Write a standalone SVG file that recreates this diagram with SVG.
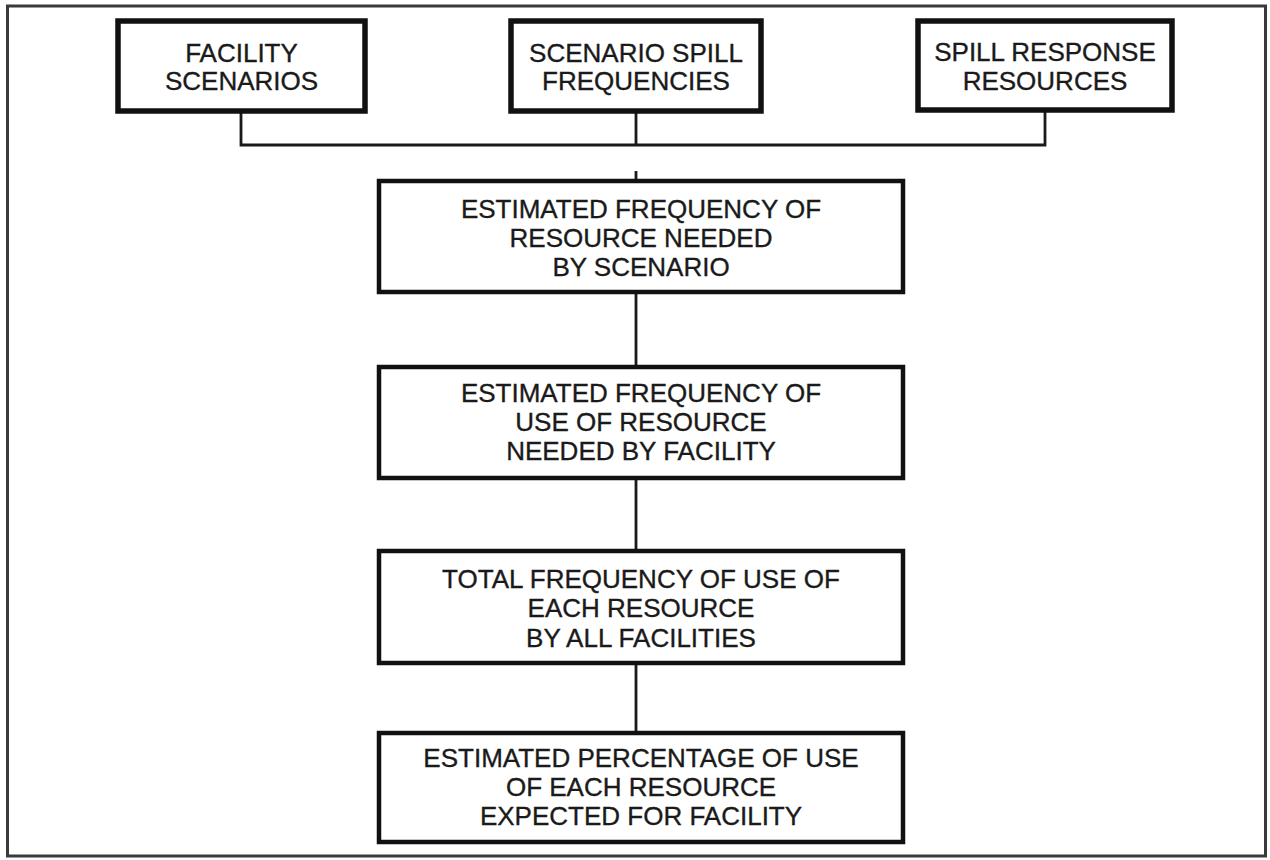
<svg xmlns="http://www.w3.org/2000/svg" width="1270" height="860" viewBox="0 0 1270 860">
  <style>
    .frame { fill: #ffffff; stroke: #3a3a3a; stroke-width: 3; }
    .box { fill: #ffffff; stroke: #111111; stroke-width: 4.5; }
    .box.top { stroke-width: 5.5; }
    .wire { fill: none; stroke: #1a1a1a; stroke-width: 2.8; }
    .label { font-family: "Liberation Sans", Arial, sans-serif; font-size: 26px; fill: #1a1a1a; stroke: #1a1a1a; stroke-width: 0.35; text-anchor: middle; }
  </style>

  <!-- outer border -->
  <rect class="frame" x="7.5" y="6" width="1258" height="850"/>

  <!-- connectors -->
  <g id="connectors">
    <path class="wire" d="M241 111 V145 H1045 V111"/>
    <path class="wire" d="M636 111 V145"/>
    <path class="wire" d="M636 171 V181"/>
    <path class="wire" d="M636 292 V367"/>
    <path class="wire" d="M636 478 V551"/>
    <path class="wire" d="M636 663 V733"/>
  </g>

  <!-- input nodes -->
  <g id="facility-scenarios">
    <rect class="box top" x="118" y="21" width="247" height="90"/>
    <text class="label" x="241.5" y="62">FACILITY</text>
    <text class="label" x="241.5" y="90">SCENARIOS</text>
  </g>
  <g id="scenario-spill-frequencies">
    <rect class="box top" x="511" y="21" width="250" height="90"/>
    <text class="label" x="636" y="62">SCENARIO SPILL</text>
    <text class="label" x="636" y="90">FREQUENCIES</text>
  </g>
  <g id="spill-response-resources">
    <rect class="box top" x="918" y="21" width="254" height="89"/>
    <text class="label" x="1045" y="61">SPILL RESPONSE</text>
    <text class="label" x="1045" y="90">RESOURCES</text>
  </g>

  <!-- processing chain -->
  <g id="frequency-by-scenario">
    <rect class="box" x="379" y="181" width="524" height="111"/>
    <text class="label" x="641" y="218">ESTIMATED FREQUENCY OF</text>
    <text class="label" x="641" y="247">RESOURCE NEEDED</text>
    <text class="label" x="641" y="276">BY SCENARIO</text>
  </g>
  <g id="frequency-by-facility">
    <rect class="box" x="379" y="367" width="524" height="111"/>
    <text class="label" x="641" y="402">ESTIMATED FREQUENCY OF</text>
    <text class="label" x="641" y="431">USE OF RESOURCE</text>
    <text class="label" x="641" y="460">NEEDED BY FACILITY</text>
  </g>
  <g id="total-frequency">
    <rect class="box" x="379" y="551" width="524" height="112"/>
    <text class="label" x="641" y="588">TOTAL FREQUENCY OF USE OF</text>
    <text class="label" x="641" y="617">EACH RESOURCE</text>
    <text class="label" x="641" y="647">BY ALL FACILITIES</text>
  </g>
  <g id="percentage-for-facility">
    <rect class="box" x="379" y="733" width="524" height="109"/>
    <text class="label" x="641" y="767">ESTIMATED PERCENTAGE OF USE</text>
    <text class="label" x="641" y="796">OF EACH RESOURCE</text>
    <text class="label" x="641" y="825">EXPECTED FOR FACILITY</text>
  </g>
</svg>
